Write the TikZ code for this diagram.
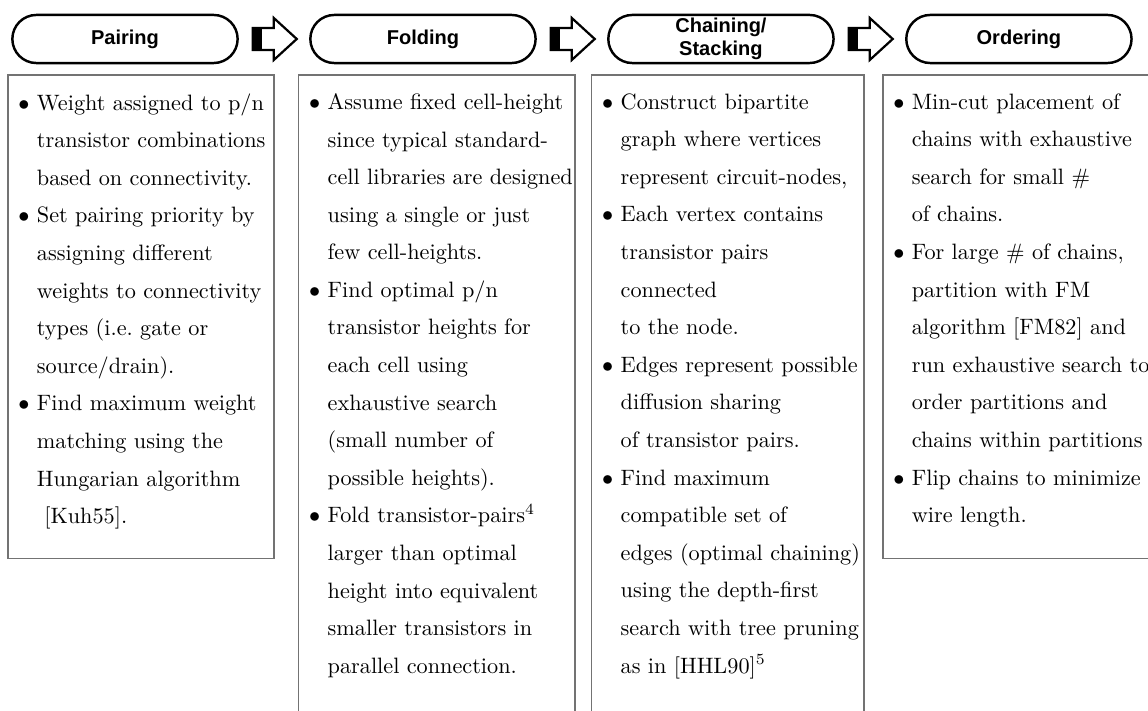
\documentclass[tikz,border=0pt]{standalone}
\usepackage{fontspec}
\newfontfamily\pillfont{Liberation Sans}
\usetikzlibrary{positioning,shapes.misc}

\tikzset{
  stage/.style={rounded rectangle, draw, line width=1.1pt, minimum width=3.63cm,
    minimum height=0.76cm, inner sep=1pt, align=center,
    font=\pillfont\bfseries\fontsize{9}{10.4}\selectfont},
  steptext/.style={anchor=north west, inner sep=0pt, align=left,
    font=\fontsize{10}{16.9}\selectfont},
  stepframe/.style={draw=black!55, line width=0.6pt},
}
\newcommand{\bt}{$\bullet$\ }
\newcommand{\nb}{\phantom{$\bullet$}\ }

\begin{document}
\begin{tikzpicture}
    \useasboundingbox (0,0) rectangle (18.14,-11.22);
    \clip (0,0) rectangle (18.14,-11.22);

    % Stages
    \node[stage] (pair) at (1.975,-0.616) {Pairing};
    \node[stage, right=1.11cm of pair] (fold) {Folding};
    \node[stage, right=1.11cm of fold] (chain) {Chaining/\\Stacking};
    \node[stage, right=1.11cm of chain] (order) {Ordering};

    % Block arrows between stages
    \foreach \a in {pair,fold,chain} {
      \begin{scope}[shift={(\a.east)}]
        \fill (0.22,-0.174) rectangle (0.37,0.174);
        \draw[line width=1pt] (0.22,-0.174) -- (0.552,-0.174) -- (0.552,-0.332)
          -- (0.915,0) -- (0.552,0.332) -- (0.552,0.174) -- (0.22,0.174) -- cycle;
      \end{scope}
    }

    % Frames
    \draw[stepframe] (0.126,-1.185) rectangle (4.33,-8.83);
    \draw[stepframe] (4.72,-1.185) rectangle (9.085,-11.5);
    \draw[stepframe] (9.35,-1.185) rectangle (13.65,-11.5);
    \draw[stepframe] (13.95,-1.185) rectangle (18.4,-8.83);

    % Step descriptions
    \node[steptext] (pairtxt) at (0.284,-1.47) {%
      \bt Weight assigned to p/n\\
      \nb transistor combinations\\
      \nb based on connectivity.\\
      \bt Set pairing priority by\\
      \nb assigning different\\
      \nb weights to connectivity\\
      \nb types (i.e.\ gate or\\
      \nb source/drain).\\
      \bt Find maximum weight\\
      \nb matching using the\\
      \nb Hungarian algorithm\\
      \nb\ [Kuh55].};
    \node[steptext] (foldtxt) at (4.878,-1.47) {%
      \bt Assume fixed cell-height\\
      \nb since typical standard-\\
      \nb cell libraries are designed\\
      \nb using a single or just\\
      \nb few cell-heights.\\
      \bt Find optimal p/n\\
      \nb transistor heights for\\
      \nb each cell using\\
      \nb exhaustive search\\
      \nb (small number of\\
      \nb possible heights).\\
      \bt Fold transistor-pairs$^4$\\
      \nb larger than optimal\\
      \nb height into equivalent\\
      \nb smaller transistors in\\
      \nb parallel connection.};
    \node[steptext] (chaintxt) at (9.508,-1.47) {%
      \bt Construct bipartite\\
      \nb graph where vertices\\
      \nb represent circuit-nodes,\\
      \bt Each vertex contains\\
      \nb transistor pairs\\
      \nb connected\\
      \nb to the node.\\
      \bt Edges represent possible\\
      \nb diffusion sharing\\
      \nb of transistor pairs.\\
      \bt Find maximum\\
      \nb compatible set of\\
      \nb edges (optimal chaining)\\
      \nb using the depth-first\\
      \nb search with tree pruning\\
      \nb as in [HHL90]$^5$};
    \node[steptext] (ordertxt) at (14.108,-1.47) {%
      \bt Min-cut placement of\\
      \nb chains with exhaustive\\
      \nb search for small \#\\
      \nb of chains.\\
      \bt For large \# of chains,\\
      \nb partition with FM\\
      \nb algorithm [FM82] and\\
      \nb run exhaustive search to\\
      \nb order partitions and\\
      \nb chains within partitions\\
      \bt Flip chains to minimize\\
      \nb wire length.};
\end{tikzpicture}
\end{document}
